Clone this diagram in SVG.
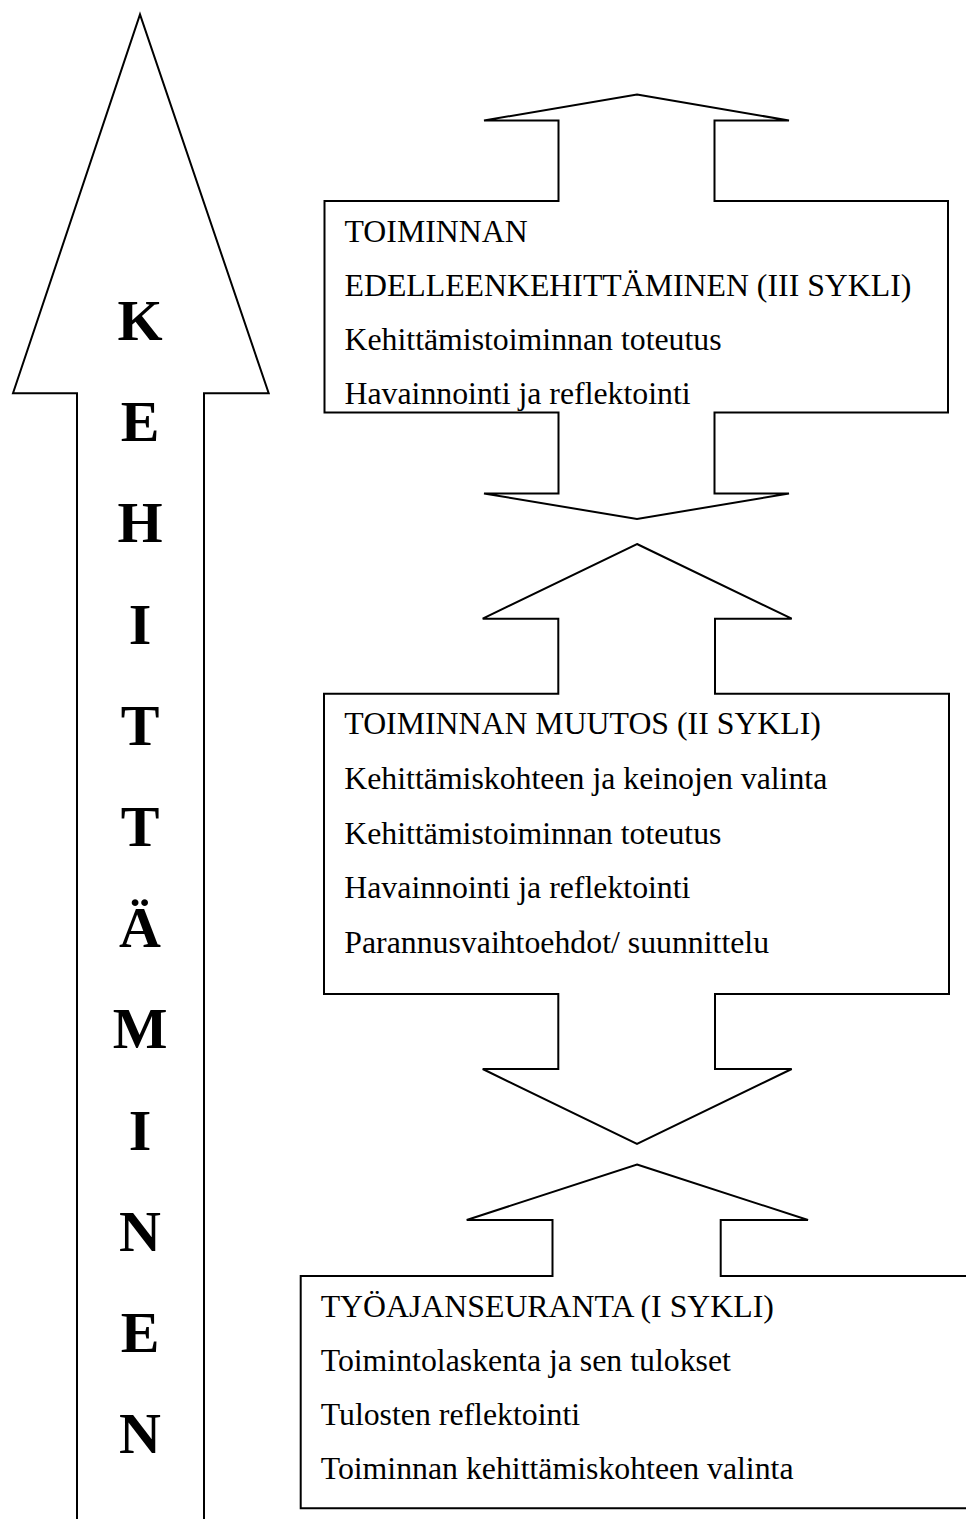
<svg xmlns="http://www.w3.org/2000/svg" width="966" height="1519" viewBox="0 0 966 1519">
<style>
.shape{fill:#fff;stroke:#000;stroke-width:2;stroke-linejoin:miter}
.t{font-family:"Liberation Serif","Times New Roman",serif;font-size:31.8px;fill:#000}
.big{font-family:"Liberation Serif","Times New Roman",serif;font-size:58px;font-weight:bold;fill:#000;text-anchor:middle}
</style>
<rect x="0" y="0" width="966" height="1519" fill="#fff"/>
<g id="kehittaminen">
<path class="shape" d="M77,1525 L77,393.3 L13,393.3 L140,14.5 L268.7,393.3 L204,393.3 L204,1525"/>
<text class="big" x="140" y="340">K</text>
<text class="big" x="140" y="441.2">E</text>
<text class="big" x="140" y="542.4">H</text>
<text class="big" x="140" y="643.6">I</text>
<text class="big" x="140" y="744.8">T</text>
<text class="big" x="140" y="846">T</text>
<text class="big" x="140" y="947.2">Ä</text>
<text class="big" x="140" y="1048.4">M</text>
<text class="big" x="140" y="1149.6">I</text>
<text class="big" x="140" y="1250.8">N</text>
<text class="big" x="140" y="1352">E</text>
<text class="big" x="140" y="1453.2">N</text>
</g>
<g id="sykli3">
<polygon class="shape" points="637,94.5 789,120.5 714.5,120.5 714.5,201 948,201 948,412.5 714.5,412.5 714.5,493.5 789,493.5 637,519 484,493.5 558.5,493.5 558.5,412.5 324.5,412.5 324.5,201 558.5,201 558.5,120.5 484,120.5"/>
<text class="t" x="344.5" y="242">TOIMINNAN</text>
<text class="t" x="344.5" y="296">EDELLEENKEHITTÄMINEN (III SYKLI)</text>
<text class="t" x="344.5" y="350">Kehittämistoiminnan toteutus</text>
<text class="t" x="344.5" y="404">Havainnointi ja reflektointi</text>
</g>
<g id="sykli2">
<polygon class="shape" points="637,544 791.7,618.7 715,618.7 715,693.7 949,693.7 949,994 715,994 715,1069 791.7,1069 637,1144 482.7,1069 558.3,1069 558.3,994 324,994 324,693.7 558.3,693.7 558.3,618.7 482.7,618.7"/>
<text class="t" x="344.3" y="734">TOIMINNAN MUUTOS (II SYKLI)</text>
<text class="t" x="344.3" y="788.7">Kehittämiskohteen ja keinojen valinta</text>
<text class="t" x="344.3" y="843.5">Kehittämistoiminnan toteutus</text>
<text class="t" x="344.3" y="898.2">Havainnointi ja reflektointi</text>
<text class="t" x="344.3" y="953">Parannusvaihtoehdot/ suunnittelu</text>
</g>
<g id="sykli1">
<polygon class="shape" points="637,1164.5 808,1220 720.7,1220 720.7,1276 968,1276 968,1508.3 300.7,1508.3 300.7,1276 552.5,1276 552.5,1220 466.7,1220"/>
<text class="t" x="320.7" y="1317.3">TYÖAJANSEURANTA (I SYKLI)</text>
<text class="t" x="320.7" y="1371.3">Toimintolaskenta ja sen tulokset</text>
<text class="t" x="320.7" y="1425">Tulosten reflektointi</text>
<text class="t" x="320.7" y="1478.5">Toiminnan kehittämiskohteen valinta</text>
</g>
<g id="connectors"></g>
</svg>
